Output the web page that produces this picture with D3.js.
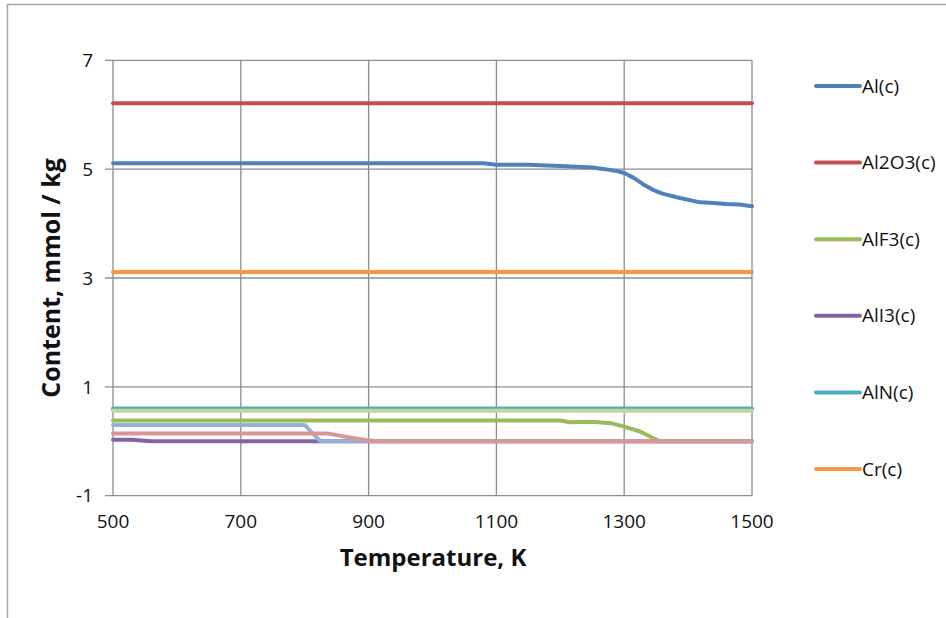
<!DOCTYPE html>
<html>
<head>
<meta charset="utf-8">
<script src="https://cdn.jsdelivr.net/npm/d3@7"></script>
<style>
  body { margin: 0; background: #fff; }
  text { font-family: "Open Sans", sans-serif; fill: #111; }
</style>
</head>
<body>
<svg id="chart" width="946" height="618"></svg>
<script>
// Values.
const alTemps  = [500, 1080, 1100, 1150, 1200, 1250, 1270, 1290, 1300, 1315, 1330, 1345, 1360, 1387, 1419, 1440, 1460, 1480, 1500];
const alValues = [5.11, 5.11, 5.08, 5.08, 5.06, 5.03, 5.0, 4.96, 4.93, 4.84, 4.72, 4.62, 4.55, 4.47, 4.39, 4.38, 4.36, 4.35, 4.32];

const al2o3Temps  = [500, 1500];
const al2o3Values = [6.21, 6.21];

const alf3Temps  = [500, 1200, 1215, 1250, 1280, 1300, 1325, 1345, 1356, 1500];
const alf3Values = [0.38, 0.38, 0.35, 0.36, 0.33, 0.27, 0.18, 0.06, 0, 0];

const ali3Temps  = [500, 530, 560, 1500];
const ali3Values = [0.03, 0.03, 0, 0];

const alnTemps  = [500, 1500];
const alnValues = [0.6, 0.6];

const crTemps  = [500, 1500];
const crValues = [3.11, 3.11];

const extra1Temps  = [500, 800, 812, 825, 1500];
const extra1Values = [0.3, 0.3, 0.15, 0, 0];

const extra2Temps  = [500, 835, 866, 897, 913, 1500];
const extra2Values = [0.145, 0.145, 0.08, 0.02, 0, 0];

const extra3Temps  = [500, 1500];
const extra3Values = [0.56, 0.56];

const xTicks = [500, 700, 900, 1100, 1300, 1500];
const yTicks = [-1, 1, 3, 5, 7];

const series = [
  {name: 'Al(c)',    color: '#4F81BD', t: alTemps,     v: alValues},
  {name: 'Al2O3(c)', color: '#C0504D', t: al2o3Temps,  v: al2o3Values},
  {name: 'AlF3(c)',  color: '#9BBB59', t: alf3Temps,   v: alf3Values},
  {name: 'AlI3(c)',  color: '#8064A2', t: ali3Temps,   v: ali3Values},
  {name: 'AlN(c)',   color: '#4BACC6', t: alnTemps,    v: alnValues},
  {name: 'Cr(c)',    color: '#F79646', t: crTemps,     v: crValues},
  {name: null,       color: '#95B3D7', t: extra1Temps, v: extra1Values},
  {name: null,       color: '#D99694', t: extra2Temps, v: extra2Values},
  {name: null,       color: '#C3D69B', t: extra3Temps, v: extra3Values}
];

const svg = d3.select('#chart');

//Outer chart frame.
svg.append('path')
    .attr('d', 'M7.5,618 V4.5 H946')
    .style('fill', 'none')
    .style('stroke', '#a6a6a6')
    .style('stroke-width', 1.5);

const plot = {left: 113, right: 752, top: 60.3, bottom: 495.7};

const x = d3.scaleLinear()
    .domain([500, 1500])
    .range([plot.left, plot.right]);
const y = d3.scaleLinear()
    .domain([-1, 7])
    .range([plot.bottom, plot.top]);

//Gridlines.
const grid = svg.append('g').attr('class', 'grid');
grid.selectAll('line.v')
    .data(xTicks)
    .enter().append('line')
    .attr('x1', d => x(d)).attr('x2', d => x(d))
    .attr('y1', plot.top).attr('y2', plot.bottom)
    .style('stroke', '#8c8c8c').style('stroke-width', 1.3);
grid.selectAll('line.h')
    .data(yTicks)
    .enter().append('line')
    .attr('x1', plot.left - 8).attr('x2', plot.right)
    .attr('y1', d => y(d)).attr('y2', d => y(d))
    .style('stroke', '#8c8c8c').style('stroke-width', 1.3);

//Tick labels.
svg.append('g').selectAll('text')
    .data(yTicks)
    .enter().append('text')
    .attr('x', 93)
    .attr('y', d => y(d))
    .attr('dy', '0.35em')
    .attr('text-anchor', 'end')
    .style('font-size', '19px')
    .text(d => d);
svg.append('g').selectAll('text')
    .data(xTicks)
    .enter().append('text')
    .attr('x', d => x(d))
    .attr('y', 521)
    .attr('dy', '0.35em')
    .attr('text-anchor', 'middle')
    .style('font-size', '19px')
    .text(d => d);

//Axis titles.
svg.append('text')
    .attr('x', 433)
    .attr('y', 558)
    .attr('dy', '0.35em')
    .attr('text-anchor', 'middle')
    .style('font-size', '24px')
    .style('font-weight', 'bold')
    .text('Temperature, K');
svg.append('text')
    .attr('transform', 'translate(51,278) rotate(-90)')
    .attr('dy', '0.35em')
    .attr('text-anchor', 'middle')
    .style('font-size', '25px')
    .style('font-weight', 'bold')
    .text('Content, mmol / kg');

//Series lines.
const line = d3.line()
    .x(d => x(d[0]))
    .y(d => y(d[1]));

svg.append('g').selectAll('path')
    .data(series)
    .enter().append('path')
    .attr('d', s => line(d3.zip(s.t, s.v)))
    .style('fill', 'none')
    .style('stroke', s => s.color)
    .style('stroke-width', 4)
    .style('stroke-linejoin', 'round')
    .style('stroke-linecap', 'round');

//Legend.
const legend = svg.append('g').selectAll('g')
    .data(series.filter(s => s.name))
    .enter().append('g')
    .attr('transform', (s, i) => `translate(816,${86 + i * 76.6})`);
legend.append('line')
    .attr('x1', 0).attr('x2', 44)
    .style('stroke', s => s.color)
    .style('stroke-width', 4)
    .style('stroke-linecap', 'round');
legend.append('text')
    .attr('x', 46)
    .attr('dy', '0.35em')
    .style('font-size', '19px')
    .text(s => s.name);
</script>
</body>
</html>
